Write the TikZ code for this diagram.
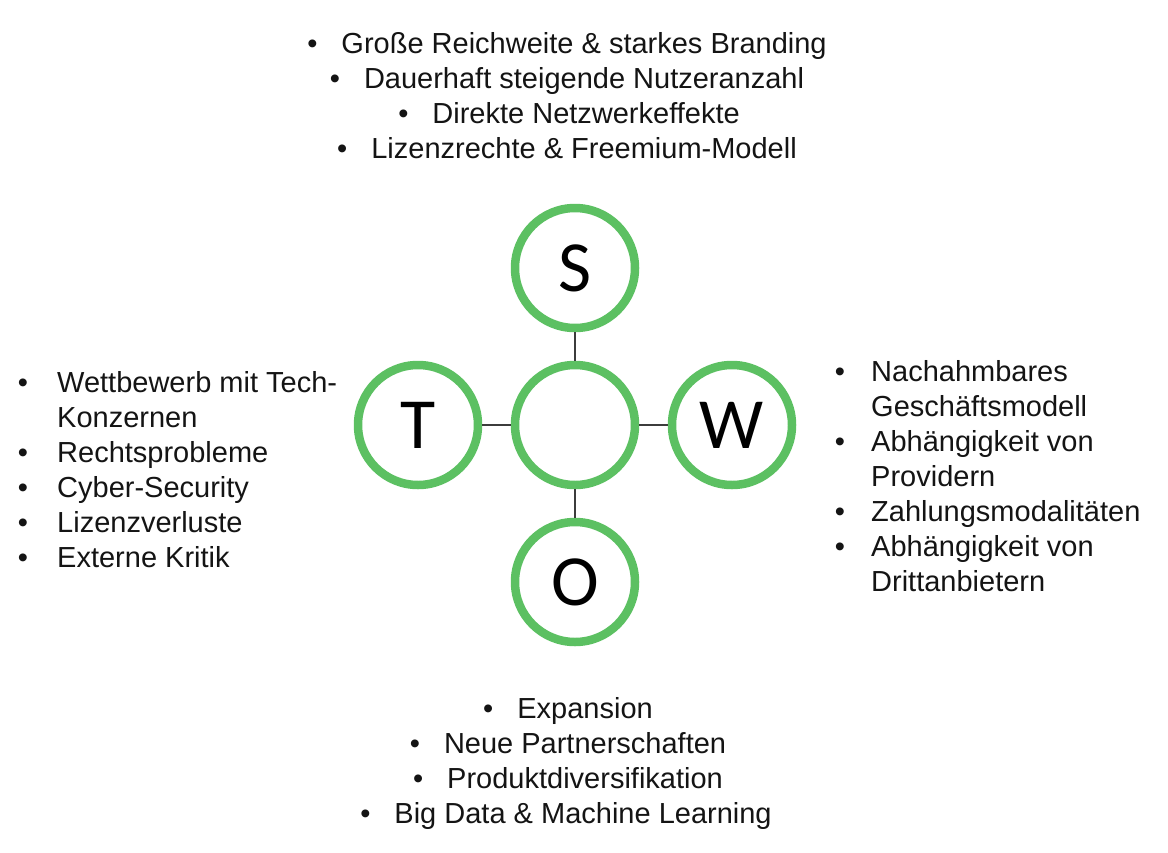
\documentclass[tikz,border=0pt]{standalone}
\usepackage{fontspec}
\setmainfont{Liberation Sans}
\newfontfamily\letterfont{Carlito}
\definecolor{swotgreen}{RGB}{92,192,98}
\definecolor{txt}{RGB}{20,20,20}
\definecolor{conncol}{RGB}{60,60,60}
\newcommand\listfont{\fontsize{29}{35}\selectfont}
\begin{document}
\begin{tikzpicture}[x=1pt,y=-1pt,
  ring/.style={circle, draw=swotgreen, line width=8.5pt, fill=white, minimum size=120pt, inner sep=0pt, font=\letterfont\fontsize{72}{80}\selectfont, text=black},
  conn/.style={draw=conncol, line width=1.5pt},
  ctext/.style={anchor=base, inner sep=0pt, font=\listfont, text=txt},
  ltext/.style={anchor=base west, inner sep=0pt, font=\listfont, text=txt},
  bul/.style={anchor=base, inner sep=0pt, font=\listfont, text=txt}]
\useasboundingbox (0,0) rectangle (1168,852);
% circles
\node[ring] (C) at (575,425) {};
\node[ring] (S) at (575,268) {S};
\node[ring] (O) at (575,582) {O};
\node[ring] (T) at (418,425) {T};
\node[ring] (W) at (732,425) {W};
\draw[conn] (S) -- (C);
\draw[conn] (O) -- (C);
\draw[conn] (T) -- (C);
\draw[conn] (W) -- (C);
% strengths
\node[ctext] (s1) at (567,53) {•\hspace{24pt}Große Reichweite \& starkes Branding};
\node[ctext] (s2) at (567,88) {•\hspace{24pt}Dauerhaft steigende Nutzeranzahl};
\node[ctext] (s3) at (569,123) {•\hspace{24pt}Direkte Netzwerkeffekte};
\node[ctext] (s4) at (567,158) {•\hspace{24pt}Lizenzrechte \& Freemium-Modell};
% opportunities
\node[ctext] (o1) at (568,718) {•\hspace{24pt}Expansion};
\node[ctext] (o2) at (568,753) {•\hspace{24pt}Neue Partnerschaften};
\node[ctext] (o3) at (568,788) {•\hspace{24pt}Produktdiversifikation};
\node[ctext] (o4) at (566,823) {•\hspace{24pt}Big Data \& Machine Learning};
% threats
\node[bul] (tb1) at (23,392) {•};
\node[ltext] (t1) at (57,392) {Wettbewerb mit Tech-};
\node[ltext] (t1b) at (57,427) {Konzernen};
\node[bul] (tb2) at (23,462) {•};
\node[ltext] (t2) at (57,462) {Rechtsprobleme};
\node[bul] (tb3) at (23,497) {•};
\node[ltext] (t3) at (57,497) {Cyber-Security};
\node[bul] (tb4) at (23,532) {•};
\node[ltext] (t4) at (57,532) {Lizenzverluste};
\node[bul] (tb5) at (23,567) {•};
\node[ltext] (t5) at (57,567) {Externe Kritik};
% weaknesses
\node[bul] (wb1) at (840,381) {•};
\node[ltext] (w1) at (871,381) {Nachahmbares};
\node[ltext] (w1b) at (871,416) {Geschäftsmodell};
\node[bul] (wb2) at (840,451) {•};
\node[ltext] (w2) at (871,451) {Abhängigkeit von};
\node[ltext] (w2b) at (871,486) {Providern};
\node[bul] (wb3) at (840,521) {•};
\node[ltext] (w3) at (871,521) {Zahlungsmodalitäten};
\node[bul] (wb4) at (840,556) {•};
\node[ltext] (w4) at (871,556) {Abhängigkeit von};
\node[ltext] (w4b) at (871,591) {Drittanbietern};
\end{tikzpicture}
\end{document}
